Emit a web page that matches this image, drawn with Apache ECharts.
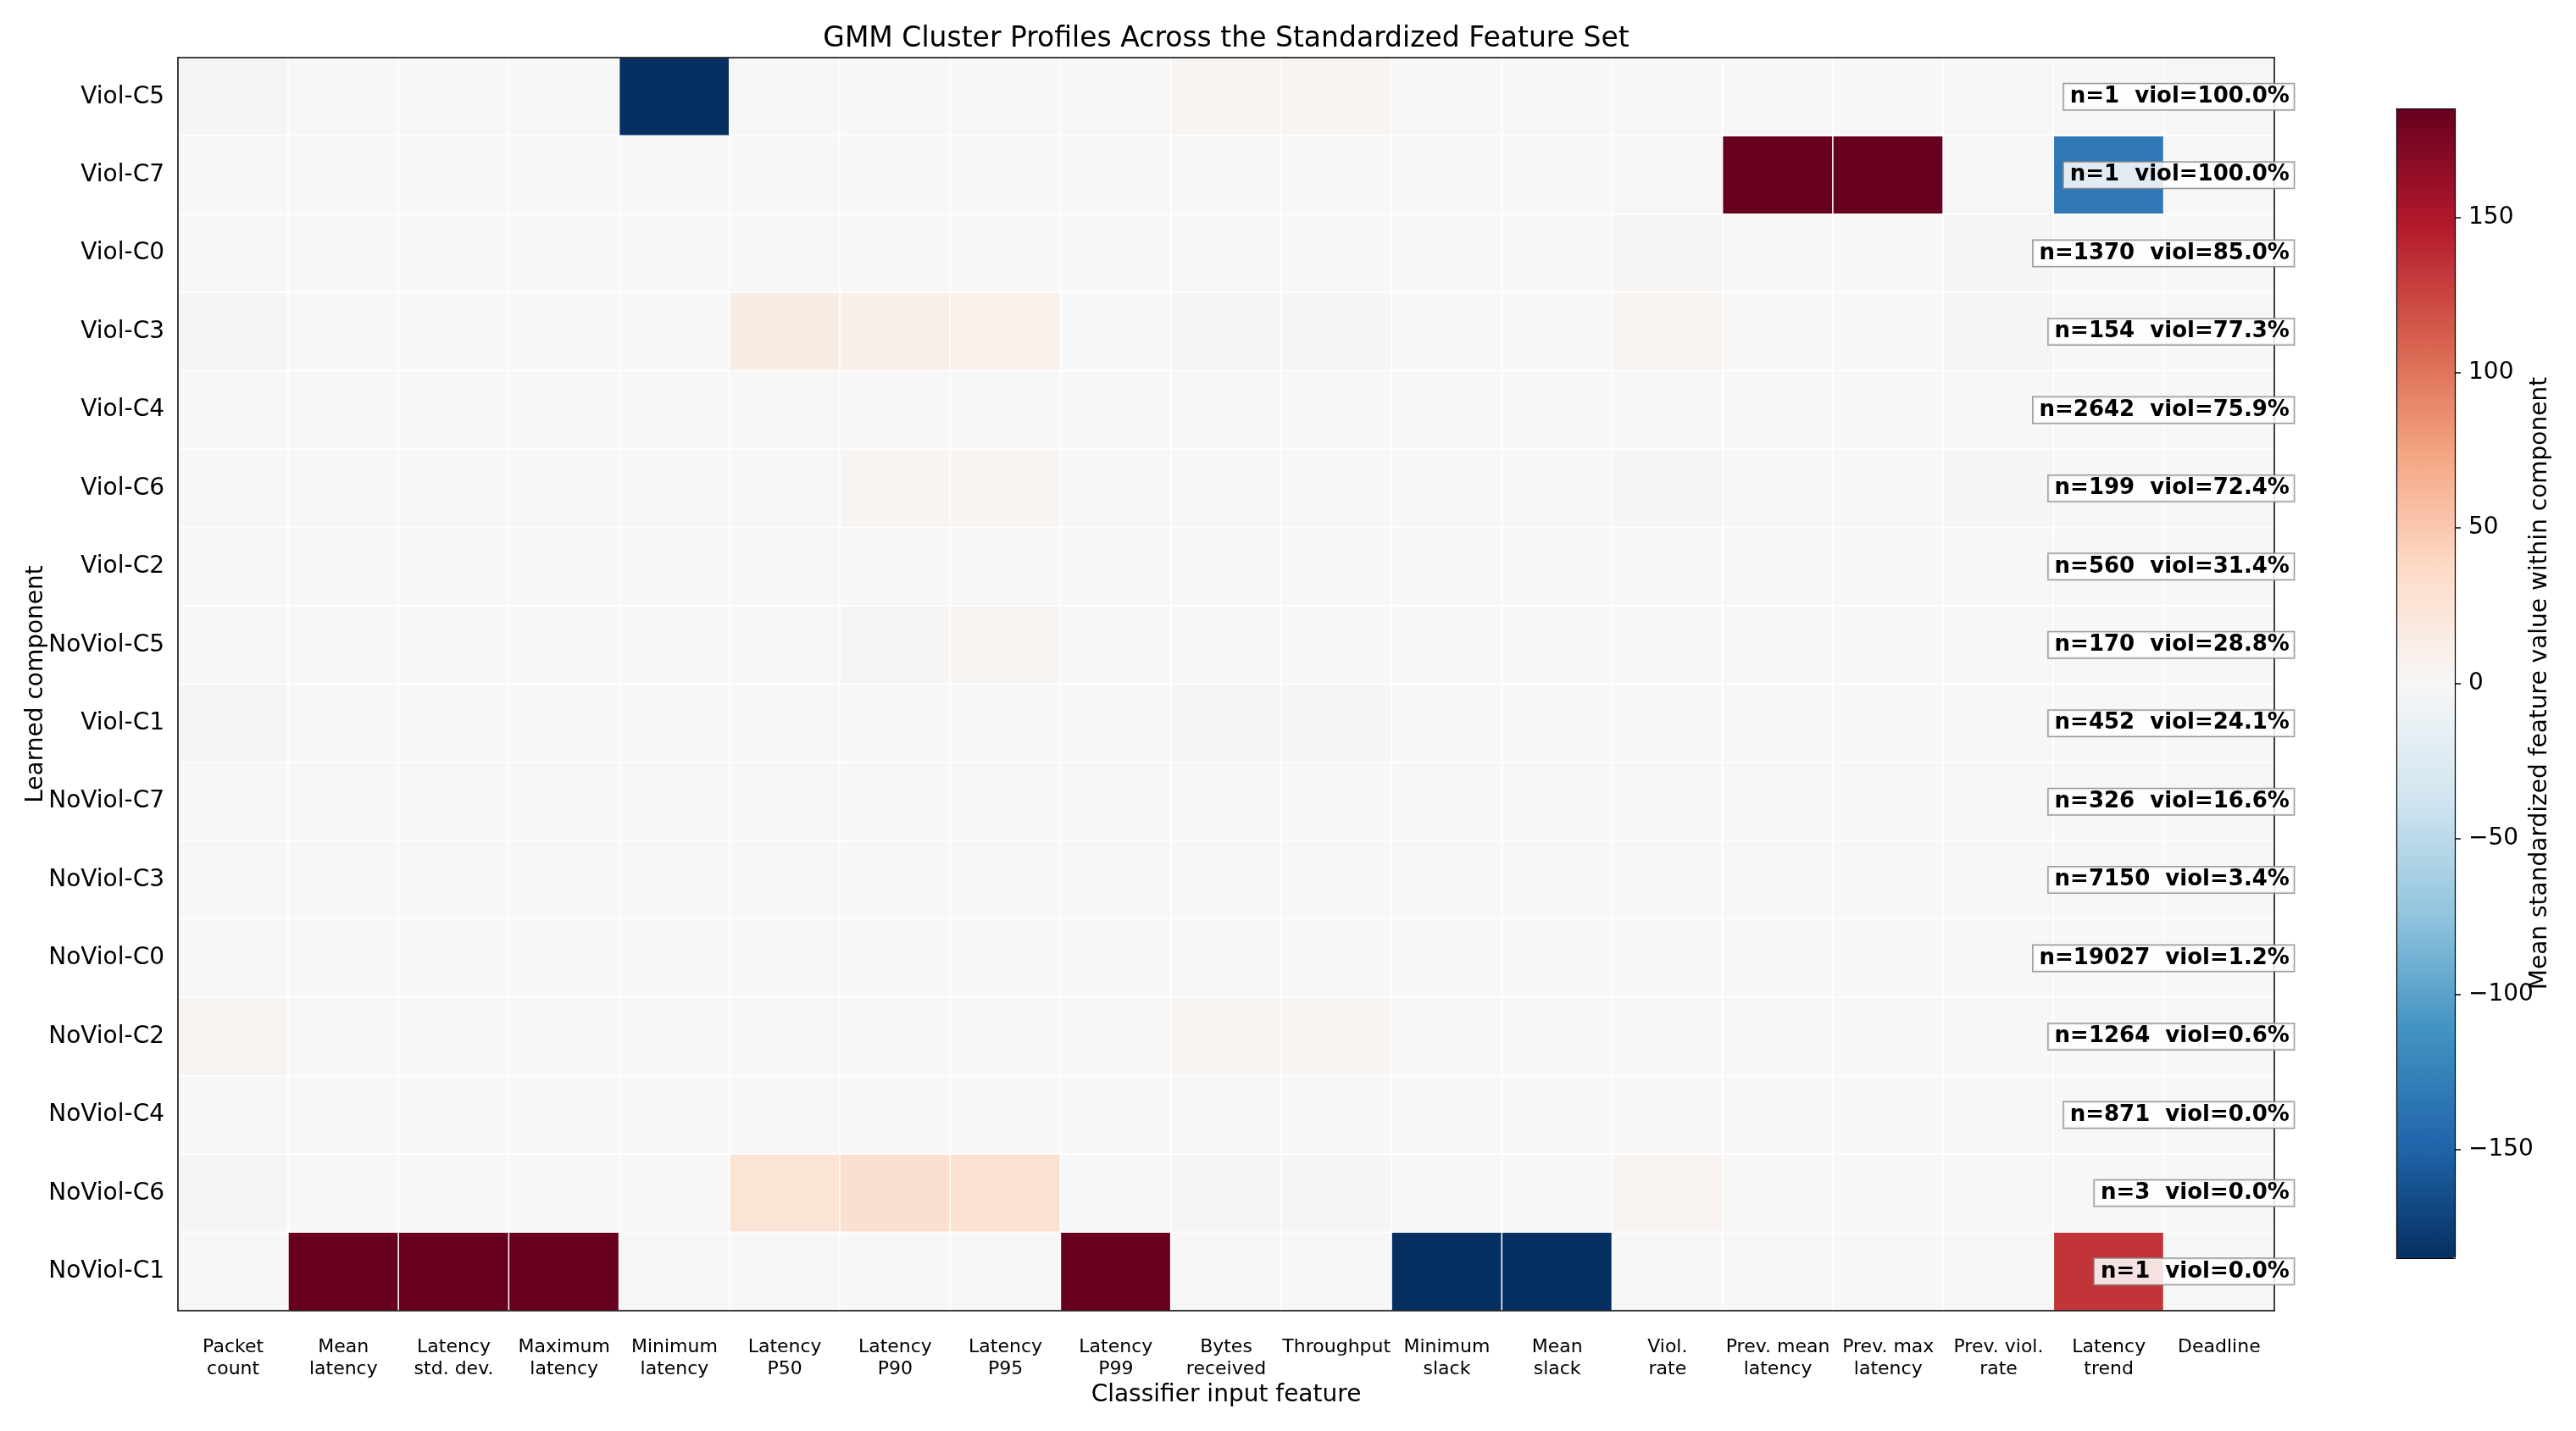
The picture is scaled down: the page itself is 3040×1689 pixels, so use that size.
<!DOCTYPE html>
<html>
<head>
<meta charset="utf-8">
<title>GMM Cluster Profiles</title>
<script src="https://cdn.jsdelivr.net/npm/echarts@6/dist/echarts.min.js"></script>
<style>
  html, body { margin: 0; padding: 0; background: #fff; }
  #main { width: 3040px; height: 1689px; }
</style>
</head>
<body>
<div id="main"></div>
<script>
// 特征（列）
var features = ['Packet\ncount', 'Mean\nlatency', 'Latency\nstd. dev.', 'Maximum\nlatency', 'Minimum\nlatency',
  'Latency\nP50', 'Latency\nP90', 'Latency\nP95', 'Latency\nP99', 'Bytes\nreceived', 'Throughput',
  'Minimum\nslack', 'Mean\nslack', 'Viol.\nrate', 'Prev. mean\nlatency', 'Prev. max\nlatency',
  'Prev. viol.\nrate', 'Latency\ntrend', 'Deadline'];

// 组件（行），从上到下
var components = ['Viol-C5', 'Viol-C7', 'Viol-C0', 'Viol-C3', 'Viol-C4', 'Viol-C6', 'Viol-C2', 'NoViol-C5',
  'Viol-C1', 'NoViol-C7', 'NoViol-C3', 'NoViol-C0', 'NoViol-C2', 'NoViol-C4', 'NoViol-C6', 'NoViol-C1'];

// 每行的均值
var violC5   = [3, 0, 0, 0, -185, 0, 0, 0, 0, 4, 4, 0, 0, 0, 0, 0, 0, 0, 1];
var violC7   = [0, 0, 0, 0, 0, 0, 0, 0, 0, 0, 0, 0, 0, 0, 185, 185, 0, -133, 0];
var violC0   = [0, 0, 0, 0, 0, 0, 0, 0, 0, 0, 0, 0, 0, 2, 0, 0, 2, 0, 0];
var violC3   = [-4, 0, 0, 0, 0, 14, 10, 9, 0, -3, -3, 0, 0, 4, 0, 0, 2, 0, 0];
var violC4   = [0, 0, 0, 0, 0, 0, 0, 0, 0, 0, 0, 0, 0, 0, 0, 0, 0, 0, 0];
var violC6   = [0, 0, 0, 0, 0, 0, 4, 4, 0, 0, 0, 0, 0, 3, 0, 0, 2, 0, 0];
var violC2   = [0, 0, 0, 0, 0, 0, 0, 0, 0, 0, 0, 0, 0, 0, 0, 0, 0, 0, 0];
var noViolC5 = [0, 0, 0, 0, 0, 0, 2, 4, 0, 0, 0, 0, 0, 0, 0, 0, 0, 0, 0];
var violC1   = [3, 0, 0, 0, 0, 0, 0, 0, 0, 3, 3, 0, 0, 0, 0, 0, 0, 0, 0];
var noViolC7 = [0, 0, 0, 0, 0, 0, 0, 0, 0, 0, 0, 0, 0, 0, 0, 0, 0, 0, 0];
var noViolC3 = [0, 0, 0, 0, 0, 0, 0, 0, 0, 0, 0, 0, 0, 0, 0, 0, 0, 0, 0];
var noViolC0 = [0, 0, 0, 0, 0, 0, 0, 0, 0, 0, 0, 0, 0, 0, 0, 0, 0, 0, 0];
var noViolC2 = [5, 0, 0, 0, 0, 0, 0, 0, 0, 4, 4, 0, 0, 0, 0, 0, 0, 0, 0];
var noViolC4 = [0, 0, 0, 0, 0, 0, 0, 0, 0, 0, 0, 0, 0, 0, 0, 0, 0, 0, 0];
var noViolC6 = [-3, 0, 0, 0, 0, 26, 31, 29, -1, -3, -3, -1, -1, 5, 0, 0, 0, 0, 0];
var noViolC1 = [0, 185, 185, 185, 0, 0, 0, 0, 185, 0, 0, -185, -185, 0, 0, 0, 0, 133, 0];

var rows = [violC5, violC7, violC0, violC3, violC4, violC6, violC2, noViolC5,
  violC1, noViolC7, noViolC3, noViolC0, noViolC2, noViolC4, noViolC6, noViolC1];

// 注释：样本数和违约率
var counts = [1, 1, 1370, 154, 2642, 199, 560, 170, 452, 326, 7150, 19027, 1264, 871, 3, 1];
var violRates = ['100.0', '100.0', '85.0', '77.3', '75.9', '72.4', '31.4', '28.8', '24.1', '16.6',
  '3.4', '1.2', '0.6', '0.0', '0.0', '0.0'];

var colorTicks = [-150, -100, -50, 0, 50, 100, 150];
var vMax = 185;

var rdbu = ['#053061', '#2166ac', '#4393c3', '#92c5de', '#d1e5f0', '#f7f7f7',
  '#fddbc7', '#f4a582', '#d6604d', '#b2182b', '#67001f'];

var heatData = [];
for (var r = 0; r < rows.length; r++) {
  for (var c = 0; c < features.length; c++) {
    heatData.push([c, r, rows[r][c]]);
  }
}
var noteData = [];
for (var i = 0; i < components.length; i++) {
  noteData.push({ value: [features.length - 1, i], note: 'n=' + counts[i] + '  viol=' + violRates[i] + '%' });
}

var font = 'DejaVu Sans';
var plot = { left: 210, top: 68, width: 2474, height: 1479 };
var cbar = { left: 2828, top: 128, width: 69, height: 1357 };
var blackLine = { show: true, onZero: false, lineStyle: { color: '#000', width: 1.5 } };
var thinLine = { show: true, onZero: false, lineStyle: { color: '#000', width: 1.2 } };

var chart = echarts.init(document.getElementById('main'));
chart.setOption({
  backgroundColor: '#fff',
  animation: false,
  textStyle: { fontFamily: font },
  grid: [
    { left: plot.left, top: plot.top, width: plot.width, height: plot.height },
    { left: cbar.left, top: cbar.top, width: cbar.width, height: cbar.height }
  ],
  xAxis: [
    {
      type: 'category', data: features, gridIndex: 0, position: 'bottom', z: 10,
      axisLine: blackLine,
      axisTick: { alignWithLabel: true, length: 7, lineStyle: { color: '#000', width: 1.5 } },
      axisLabel: { color: '#000', fontSize: 22, lineHeight: 26, margin: 30, interval: 0, fontFamily: font },
      splitLine: { show: false },
      name: 'Classifier input feature', nameLocation: 'middle', nameGap: 86, nameMoveOverlap: false,
      nameTextStyle: { color: '#000', fontSize: 28, fontFamily: font }
    },
    {
      type: 'category', data: features, gridIndex: 0, position: 'top', z: 10,
      axisLine: blackLine, axisTick: { show: false }, axisLabel: { show: false },
      name: 'GMM Cluster Profiles Across the Standardized Feature Set', nameLocation: 'middle', nameGap: 5,
      nameTextStyle: { color: '#000', fontSize: 33, fontFamily: font, verticalAlign: 'bottom' }
    },
    {
      type: 'value', gridIndex: 1, min: 0, max: 1, position: 'bottom', z: 10,
      axisLine: thinLine, axisTick: { show: false }, axisLabel: { show: false }, splitLine: { show: false }
    },
    {
      type: 'value', gridIndex: 1, min: 0, max: 1, position: 'top', z: 10,
      axisLine: thinLine, axisTick: { show: false }, axisLabel: { show: false }, splitLine: { show: false }
    }
  ],
  yAxis: [
    {
      type: 'category', data: components, gridIndex: 0, inverse: true, position: 'left', z: 10,
      axisLine: blackLine,
      axisTick: { alignWithLabel: true, length: 7, lineStyle: { color: '#000', width: 1.5 } },
      axisLabel: { color: '#000', fontSize: 28, margin: 16, interval: 0, fontFamily: font },
      splitLine: { show: false },
      name: 'Learned component', nameLocation: 'middle', nameGap: 153, nameRotate: 90, nameMoveOverlap: false,
      nameTextStyle: { color: '#000', fontSize: 28, fontFamily: font }
    },
    {
      type: 'category', data: components, gridIndex: 0, inverse: true, position: 'right', z: 10,
      axisLine: blackLine, axisTick: { show: false }, axisLabel: { show: false }
    },
    {
      type: 'value', gridIndex: 1, min: -vMax, max: vMax, position: 'left', z: 10,
      axisLine: thinLine, axisTick: { show: false }, axisLabel: { show: false }, splitLine: { show: false }
    },
    {
      type: 'value', gridIndex: 1, min: -vMax, max: vMax, position: 'right', z: 10,
      axisLine: thinLine,
      axisTick: { show: true, length: 7, customValues: colorTicks, lineStyle: { color: '#000', width: 1.5 } },
      axisLabel: {
        show: true, customValues: colorTicks, color: '#000', fontSize: 28, margin: 16, fontFamily: font,
        formatter: function (v) { return v < 0 ? '\u2212' + Math.abs(v) : String(v); }
      },
      splitLine: { show: false },
      name: 'Mean standardized feature value within component', nameLocation: 'middle', nameGap: 87,
      nameRotate: 90, nameMoveOverlap: false,
      nameTextStyle: { color: '#000', fontSize: 28, fontFamily: font }
    }
  ],
  visualMap: {
    type: 'continuous', seriesIndex: 0, min: -vMax, max: vMax, calculable: false, realtime: false,
    orient: 'vertical', left: cbar.left, top: cbar.top, padding: 0,
    itemWidth: cbar.width, itemHeight: cbar.height, text: null, showLabel: false, hoverLink: false,
    inRange: { color: rdbu }
  },
  series: [
    {
      type: 'heatmap', xAxisIndex: 0, yAxisIndex: 0, data: heatData,
      itemStyle: { borderColor: '#fff', borderWidth: 1.5 },
      emphasis: { disabled: true },
      label: { show: false }
    },
    {
      type: 'scatter', xAxisIndex: 0, yAxisIndex: 0, data: noteData, z: 20,
      symbolSize: 1, itemStyle: { color: 'rgba(0,0,0,0)' }, silent: true,
      label: {
        show: true, position: [88.5, 0.5], align: 'right', verticalAlign: 'middle',
        formatter: function (p) { return p.data.note; },
        color: '#000', fontSize: 26, fontWeight: 'bold', fontFamily: font,
        textBorderWidth: 0, textBorderColor: 'transparent', opacity: 1,
        backgroundColor: 'rgba(255,255,255,0.85)', borderColor: 'rgba(140,140,140,0.85)', borderWidth: 1.5,
        padding: [2, 5, 2, 7]
      }
    }
  ]
});
</script>
</body>
</html>
